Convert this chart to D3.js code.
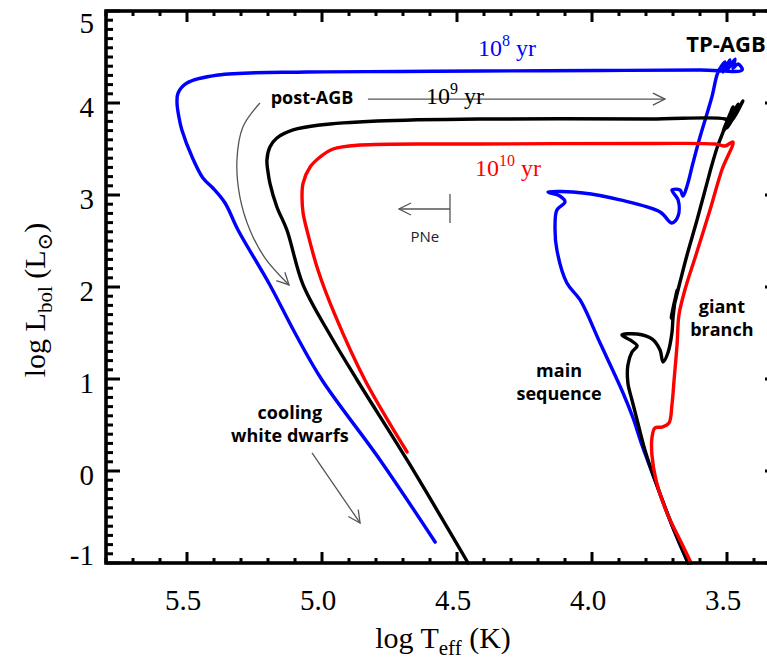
<!DOCTYPE html>
<html>
<head>
<meta charset="utf-8">
<script src="https://cdn.jsdelivr.net/npm/d3@7"></script>
<style>
  html, body { margin: 0; padding: 0; background: #fff; }
  svg { display: block; }
  .serif { font-family: "Liberation Serif", "DejaVu Serif", serif; }
  .sans { font-family: "Open Sans", "Noto Sans", sans-serif; }
</style>
</head>
<body>
<div id="chart"></div>
<script>
// axis ticks
const xTicks = [5.5, 5.0, 4.5, 4.0, 3.5];
const yTicks = [-1, 0, 1, 2, 3, 4, 5];

// tracks as [log Teff, log Lbol]
const track1e8 = [
  [3.644, -1.0], [3.704, -0.587], [3.767, -0.098], [3.815, 0.283], [3.848, 0.576],
  [3.885, 0.848], [3.970, 1.391], [4.044, 1.859], [4.093, 2.043], [4.130, 2.402],
  [4.137, 2.652], [4.130, 2.837], [4.100, 2.924], [4.119, 2.989], [4.163, 3.033],
  [4.033, 3.022], [3.896, 2.946], [3.748, 2.815], [3.704, 2.696], [3.681, 2.772],
  [3.681, 2.946], [3.704, 3.054], [3.674, 3.054], [3.663, 2.989], [3.648, 3.098],
  [3.626, 3.348], [3.600, 3.630], [3.556, 4.065], [3.533, 4.337], [3.507, 4.446],
  [3.515, 4.337], [3.489, 4.467], [3.500, 4.359], [3.470, 4.478], [3.478, 4.380],
  [3.459, 4.424], [3.444, 4.359], [3.600, 4.359], [3.970, 4.353], [4.415, 4.348],
  [4.711, 4.342], [5.056, 4.337], [5.385, 4.304], [5.500, 4.217], [5.533, 4.109],
  [5.537, 4.000], [5.530, 3.848], [5.519, 3.707], [5.481, 3.413], [5.441, 3.185],
  [5.404, 3.076], [5.359, 2.913], [5.311, 2.620], [5.193, 2.022], [5.100, 1.500],
  [5.000, 0.989], [4.785, 0.120], [4.581, -0.772]
];

const track1e9 = [
  [3.644, -1.0], [3.704, -0.587], [3.767, -0.098], [3.804, 0.228], [3.833, 0.554],
  [3.852, 0.772], [3.867, 0.957], [3.867, 1.152], [3.852, 1.293], [3.833, 1.359],
  [3.859, 1.424], [3.889, 1.478], [3.833, 1.489], [3.778, 1.435], [3.748, 1.315],
  [3.737, 1.185], [3.719, 1.283], [3.704, 1.500], [3.700, 1.663], [3.693, 1.859],
  [3.707, 1.663], [3.685, 1.967], [3.700, 1.750], [3.674, 2.054], [3.648, 2.348],
  [3.611, 2.728], [3.581, 3.054], [3.556, 3.326], [3.537, 3.511], [3.519, 3.652],
  [3.478, 3.957], [3.515, 3.685], [3.459, 3.989], [3.500, 3.728], [3.441, 4.022],
  [3.489, 3.793], [3.507, 3.826], [3.785, 3.826], [4.415, 3.826], [4.796, 3.804],
  [5.007, 3.761], [5.107, 3.707], [5.167, 3.620], [5.193, 3.522], [5.204, 3.380],
  [5.200, 3.250], [5.193, 3.130], [5.167, 2.870], [5.130, 2.620], [5.070, 2.022],
  [4.970, 1.478], [4.870, 0.989], [4.685, 0.120], [4.459, -1.0]
];

const track1e10 = [
  [3.633, -1.0], [3.674, -0.750], [3.722, -0.457], [3.763, -0.098], [3.778, 0.174],
  [3.778, 0.359], [3.767, 0.467], [3.741, 0.478], [3.715, 0.522], [3.704, 0.717],
  [3.696, 0.989], [3.685, 1.370], [3.678, 1.696], [3.656, 1.967], [3.615, 2.348],
  [3.563, 2.837], [3.519, 3.272], [3.478, 3.576], [3.507, 3.533], [3.544, 3.554],
  [3.785, 3.560], [4.415, 3.554], [4.859, 3.543], [4.959, 3.500], [5.007, 3.413],
  [5.044, 3.304], [5.070, 3.130], [5.074, 2.978], [5.070, 2.804], [5.056, 2.620],
  [5.015, 2.185], [4.952, 1.696], [4.841, 0.989], [4.685, 0.207]
];

// annotation arrows
const agbArrow = [[4.830, 4.043], [3.730, 4.043]];
const pneArrow = [[4.526, 2.848], [4.715, 2.848]];
const pneBar = [[4.526, 3.011], [4.526, 2.696]];
const coolArrow = [[5.037, 0.196], [4.859, -0.565]];
const postAgbArrow = [
  [5.230, 4.000], [5.293, 3.739], [5.315, 3.380], [5.304, 2.978],
  [5.267, 2.620], [5.211, 2.315], [5.122, 2.022]
];

// labels
const boldLabels = [
  { lines: ["TP-AGB"], T: 3.504, L: 4.554, size: 22 },
  { lines: ["post-AGB"], T: 5.037, L: 3.989, size: 18 },
  { lines: ["giant", "branch"], T: 3.519, L: 1.717, size: 18 },
  { lines: ["main", "sequence"], T: 4.122, L: 1.022, size: 18 },
  { lines: ["cooling", "white dwarfs"], T: 5.119, L: 0.565, size: 18 }
];
const ageLabels = [
  { exp: "8", T: 4.315, L: 4.511, color: "#0000ff" },
  { exp: "9", T: 4.507, L: 3.989, color: "#000000" },
  { exp: "10", T: 4.311, L: 3.207, color: "#ff0000" }
];

const width = 767, height = 659;
const x = d3.scaleLinear().domain([5.8, 3.3]).range([106, 781]);
const y = d3.scaleLinear().domain([-1, 5]).range([563, 11]);

const svg = d3.select("#chart").append("svg")
  .attr("width", width)
  .attr("height", height);

svg.append("defs").append("marker")
  .attr("id", "head")
  .attr("markerUnits", "userSpaceOnUse")
  .attr("viewBox", "0 0 14 14")
  .attr("refX", 13).attr("refY", 7)
  .attr("markerWidth", 14).attr("markerHeight", 14)
  .attr("orient", "auto")
  .append("path")
  .attr("d", "M1,1 L13,7 L1,13")
  .attr("fill", "none")
  .attr("stroke", "#555")
  .attr("stroke-width", 1.3);

const line = d3.line()
  .x(d => x(d[0]))
  .y(d => y(d[1]))
  .curve(d3.curveCatmullRom.alpha(0.5));

const straight = d3.line().x(d => x(d[0])).y(d => y(d[1]));

// gray annotation arrows
const gray = svg.append("g").attr("fill", "none").attr("stroke", "#555").attr("stroke-width", 1.3);
gray.append("path").attr("d", straight(agbArrow)).attr("marker-end", "url(#head)");
gray.append("path").attr("d", straight(pneArrow)).attr("marker-end", "url(#head)");
gray.append("path").attr("d", straight(pneBar));
gray.append("path").attr("d", straight(coolArrow)).attr("marker-end", "url(#head)");
gray.append("path").attr("d", line(postAgbArrow)).attr("marker-end", "url(#head)");

// tracks
const tracks = [
  { data: track1e8, color: "#0000ff" },
  { data: track1e9, color: "#000000" },
  { data: track1e10, color: "#ff0000" }
];
svg.append("g").selectAll("path")
  .data(tracks)
  .join("path")
  .attr("d", d => line(d.data))
  .attr("fill", "none")
  .attr("stroke", d => d.color)
  .attr("stroke-width", 3.4)
  .attr("stroke-linejoin", "round")
  .attr("stroke-linecap", "round");

// frame + ticks
const x0 = x.range()[0], x1 = x.range()[1], y0 = y.range()[0], y1 = y.range()[1];
const xMinor = d3.range(33, 59).map(i => i / 10);
const yMinor = d3.range(-10, 51).map(i => i / 10);
const isMajor = v => Math.abs(v * 2 - Math.round(v * 2)) < 1e-6;
const isMajorY = v => Math.abs(v - Math.round(v)) < 1e-6;

const axes = svg.append("g").attr("stroke", "#000").attr("stroke-width", 3);
axes.selectAll(".xt").data(xMinor).join("line")
  .attr("x1", d => x(d)).attr("x2", d => x(d))
  .attr("y1", y0).attr("y2", d => y0 - (isMajor(d) ? 11 : 5));
axes.selectAll(".xtt").data(xMinor).join("line")
  .attr("x1", d => x(d)).attr("x2", d => x(d))
  .attr("y1", y1).attr("y2", d => y1 + (isMajor(d) ? 11 : 5));
axes.selectAll(".yt").data(yMinor).join("line")
  .attr("y1", d => y(d)).attr("y2", d => y(d))
  .attr("x1", x0).attr("x2", d => x0 + (isMajorY(d) ? 14 : 7));
axes.selectAll(".ytr").data(yMinor).join("line")
  .attr("y1", d => y(d)).attr("y2", d => y(d))
  .attr("x1", x1).attr("x2", d => x1 - (isMajorY(d) ? 16 : 7));

svg.append("rect")
  .attr("x", x0).attr("y", y1)
  .attr("width", x1 - x0).attr("height", y0 - y1)
  .attr("fill", "none").attr("stroke", "#000").attr("stroke-width", 3.6);

// tick labels
svg.append("g").attr("class", "serif").attr("font-size", 29)
  .selectAll("text").data(xTicks).join("text")
  .attr("x", d => x(d) - 4).attr("y", y0 + 47)
  .attr("text-anchor", "middle")
  .text(d => d.toFixed(1));

svg.append("g").attr("class", "serif").attr("font-size", 29)
  .selectAll("text").data(yTicks).join("text")
  .attr("x", 94)
  .attr("y", d => Math.min(Math.max(y(d) + 14, y(5) + 22), y(-1) + 2))
  .attr("text-anchor", "end")
  .text(d => d);

// axis titles
const xt = svg.append("text").attr("class", "serif").attr("font-size", 30)
  .attr("x", 443).attr("y", 648).attr("text-anchor", "middle");
xt.append("tspan").text("log T");
xt.append("tspan").attr("font-size", 21).attr("dy", 7).text("eff");
xt.append("tspan").attr("dy", -7).text(" (K)");

const yt = svg.append("text").attr("class", "serif").attr("font-size", 30)
  .attr("transform", "translate(45,300) rotate(-90)").attr("text-anchor", "middle");
yt.append("tspan").text("log L");
yt.append("tspan").attr("font-size", 21).attr("dy", 7).text("bol");
yt.append("tspan").attr("dy", -7).text(" (L");
yt.append("tspan").attr("font-size", 21).attr("dy", 7).attr("font-family", "DejaVu Serif").text("\u2299");
yt.append("tspan").attr("dy", -7).text(")");

// age labels
ageLabels.forEach(a => {
  const t = svg.append("text").attr("class", "serif").attr("font-size", 24)
    .attr("fill", a.color).attr("x", x(a.T)).attr("y", y(a.L)).attr("text-anchor", "middle");
  t.append("tspan").text("10");
  t.append("tspan").attr("font-size", 16).attr("dy", -10).text(a.exp);
  t.append("tspan").attr("dy", 10).text(" yr");
});

// bold labels
boldLabels.forEach(b => {
  const t = svg.append("text").attr("class", "sans").attr("font-weight", 700)
    .attr("font-size", b.size).attr("text-anchor", "middle")
    .attr("x", x(b.T)).attr("y", y(b.L));
  b.lines.forEach((s, i) => {
    t.append("tspan").attr("x", x(b.T)).attr("dy", i === 0 ? 0 : 23).text(s);
  });
});

svg.append("text").attr("class", "sans").attr("font-size", 15)
  .attr("x", x(4.619)).attr("y", y(2.489)).attr("text-anchor", "middle")
  .attr("fill", "#222").text("PNe");
</script>
</body>
</html>
